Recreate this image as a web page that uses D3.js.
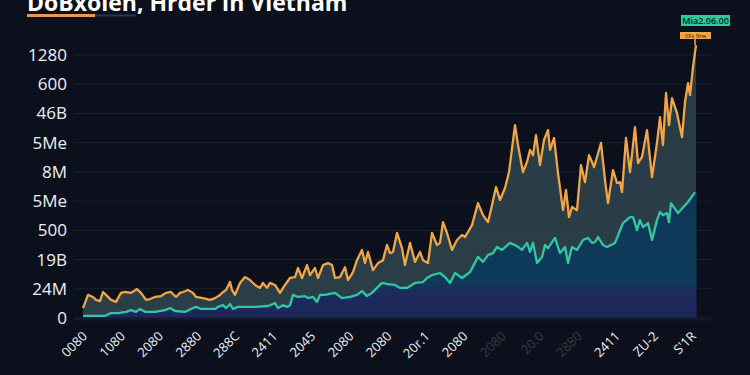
<!DOCTYPE html>
<html>
<head>
<meta charset="utf-8">
<script src="https://cdn.jsdelivr.net/npm/d3@7"></script>
<style>
  html, body { margin: 0; padding: 0; background: #0b101c; }
  svg { display: block; }
</style>
</head>
<body>
<div id="chart"></div>
<script>
// ---- data ----
var yTickLabels = ["0", "24M", "19B", "500", "5Me", "8M", "5Me", "46B", "600", "1280"];
var xTickLabels = ["0080", "1080", "2080", "2880", "288C", "2411", "2045", "2080", "2080",
                   "20r.1", "2080", "2080", "20.0", "2880", "2411", "ZU-2", "S'1R"];
var faintTicks = [11, 12, 13];

// orange series [day, value]
var orangeData = [[1,34],[6,79],[11,72],[14,62],[18,58],[21,89],[24,79],[29,62],[34,55],[39,86],
  [43,89],[49,86],[55,99],[59,86],[64,62],[68,65],[73,72],[79,75],[84,86],[89,89],[94,72],[98,86],
  [101,89],[106,96],[111,86],[114,72],[121,68],[128,62],[133,68],[138,79],[141,89],[144,96],[148,123],
  [150,96],[153,79],[158,120],[163,140],[168,130],[173,113],[178,103],[181,120],[185,103],[188,120],
  [193,113],[198,86],[203,113],[208,137],[213,140],[216,171],[220,137],[225,181],[228,147],[233,171],
  [236,137],[241,181],[246,188],[250,181],[253,137],[258,140],[263,174],[266,130],[271,157],[275,198],
  [280,233],[283,188],[286,226],[291,164],[296,188],[301,198],[305,250],[308,222],[311,226],[315,291],
  [320,239],[323,181],[328,257],[333,192],[338,226],[341,198],[346,188],[350,291],[355,250],[358,257],
  [361,328],[365,291],[370,233],[375,267],[380,284],[383,277],[390,318],[396,393],[401,352],[406,328],
  [410,386],[414,448],[418,404],[423,445],[427,499],[433,660],[436,592],[441,499],[445,534],[448,575],
  [451,557],[454,626],[458,523],[462,609],[466,643],[468,575],[472,616],[476,496],[481,369],[484,438],
  [487,345],[490,380],[495,369],[499,523],[503,465],[507,557],[510,534],[512,516],[515,551],[519,599],
  [523,472],[526,393],[531,506],[535,462],[538,465],[540,431],[544,616],[548,499],[553,653],[556,530],
  [560,551],[565,643],[570,482],[575,599],[578,687],[581,592],[584,770],[587,660],[590,752],[595,701],
  [600,619],[603,739],[606,804],[608,763],[611,858],[614,934]];

// teal series [day, value]
var tealData = [[1,7],[23,7],[29,17],[36,17],[44,21],[49,27],[54,21],[58,31],[63,21],[73,21],[83,27],
  [88,34],[93,24],[103,21],[111,34],[114,38],[119,31],[133,31],[136,38],[141,44],[144,34],[148,48],
  [151,31],[156,38],[173,38],[186,41],[193,51],[196,34],[201,44],[205,38],[208,44],[211,79],[216,72],
  [223,75],[226,68],[231,72],[235,55],[238,79],[243,79],[253,86],[260,68],[268,72],[275,79],[280,92],
  [285,75],[290,86],[295,103],[300,120],[306,116],[313,113],[318,103],[325,103],[333,120],[341,123],
  [345,137],[350,147],[358,154],[363,140],[368,120],[373,154],[380,137],[388,157],[396,209],[401,192],
  [406,215],[411,222],[415,243],[420,233],[428,257],[435,246],[440,233],[445,257],[448,226],[451,257],
  [455,188],[460,209],[463,250],[466,239],[473,274],[478,222],[483,243],[486,188],[490,243],[495,233],
  [501,267],[506,274],[510,257],[513,260],[516,277],[521,250],[525,243],[533,257],[541,325],[548,345],
  [551,345],[555,301],[558,335],[561,311],[566,325],[570,267],[575,335],[578,363],[581,352],[585,359],
  [587,328],[589,393],[596,359],[606,397],[613,431]];

var titleText = "DoBxolen, Hrder in Vietham";
var badgeTop = "Mia2.06.00";
var badgeSub = "0Fs 9ne";

// ---- layout ----
var width = 750, height = 375;
var svg = d3.select("#chart").append("svg")
    .attr("width", width).attr("height", height);

svg.append("rect").attr("width", width).attr("height", height).attr("fill", "#0b101c");

var x = d3.scaleLinear().domain([0, 615]).range([82, 697]);
var y = d3.scaleLinear().domain([0, 900]).range([318, 55]);

// gradients
var defs = svg.append("defs");
var gTeal = defs.append("linearGradient").attr("id", "tealFill")
    .attr("gradientUnits", "userSpaceOnUse")
    .attr("x1", 0).attr("y1", 190).attr("x2", 0).attr("y2", 318);
gTeal.append("stop").attr("offset", "0%").attr("stop-color", "#0c3654");
gTeal.append("stop").attr("offset", "72%").attr("stop-color", "#0f3b5c");
gTeal.append("stop").attr("offset", "80%").attr("stop-color", "#1c2a5c");
gTeal.append("stop").attr("offset", "100%").attr("stop-color", "#1d2859");

var gOrange = defs.append("linearGradient").attr("id", "orangeFill")
    .attr("gradientUnits", "userSpaceOnUse")
    .attr("x1", 0).attr("y1", 45).attr("x2", 0).attr("y2", 318);
gOrange.append("stop").attr("offset", "0%").attr("stop-color", "#273a48");
gOrange.append("stop").attr("offset", "100%").attr("stop-color", "#2b3f47");

// gridlines
var yTicks = d3.range(0, 1000, 100);
svg.append("g").selectAll("line").data(yTicks).join("line")
    .attr("x1", 74).attr("x2", 712)
    .attr("y1", function(d) { return y(d); })
    .attr("y2", function(d) { return y(d); })
    .attr("stroke", "#1a2130").attr("stroke-width", 1);

// y axis labels
var yAxis = d3.axisLeft(y).tickValues(yTicks)
    .tickFormat(function(d, i) { return yTickLabels[i]; })
    .tickSize(0).tickPadding(0);
var yg = svg.append("g").attr("transform", "translate(67,0)").call(yAxis);
yg.select(".domain").remove();
yg.selectAll("text")
    .attr("fill", "#eef0f4")
    .style("font-family", "'Open Sans', sans-serif")
    .style("font-size", "17px");

// areas
var areaOrange = d3.area()
    .x(function(d) { return x(d[0]); })
    .y0(y(0))
    .y1(function(d) { return y(d[1]); });
svg.append("path").datum(orangeData)
    .attr("d", areaOrange).attr("fill", "url(#orangeFill)");

var areaTeal = d3.area()
    .x(function(d) { return x(d[0]); })
    .y0(y(0))
    .y1(function(d) { return y(d[1]); });
svg.append("path").datum(tealData)
    .attr("d", areaTeal).attr("fill", "url(#tealFill)");

// extend teal fill to right edge of the orange fill
svg.append("rect")
    .attr("x", x(613)).attr("width", x(614) - x(613) + 0.5)
    .attr("y", y(431)).attr("height", y(0) - y(431))
    .attr("fill", "url(#tealFill)");

// lines
var line = d3.line()
    .x(function(d) { return x(d[0]); })
    .y(function(d) { return y(d[1]); });

svg.append("path").datum(tealData)
    .attr("d", line).attr("fill", "none")
    .attr("stroke", "#31c7a2").attr("stroke-width", 2.3)
    .attr("stroke-linejoin", "round");

svg.append("path").datum(orangeData)
    .attr("d", line).attr("fill", "none")
    .attr("stroke", "#f2a543").attr("stroke-width", 2.3)
    .attr("stroke-linejoin", "round");

// baseline
svg.append("line").attr("x1", 74).attr("x2", 712)
    .attr("y1", y(0) + 1).attr("y2", y(0) + 1)
    .attr("stroke", "#121a2a").attr("stroke-width", 3);

// x axis labels
var xPos = d3.scaleLinear().domain([0, xTickLabels.length - 1]).range([88, 697]);
svg.append("g").selectAll("text").data(xTickLabels).join("text")
    .attr("transform", function(d, i) {
        return "translate(" + xPos(i) + ",337) rotate(-45)";
    })
    .attr("text-anchor", "end")
    .attr("fill", "#eef0f4")
    .attr("opacity", function(d, i) { return faintTicks.indexOf(i) >= 0 ? 0.18 : 1; })
    .style("font-family", "'Open Sans', sans-serif")
    .style("font-size", "13px")
    .text(function(d) { return d; });

// title
svg.append("text")
    .attr("x", 27).attr("y", 11)
    .attr("fill", "#ffffff")
    .style("font-family", "'Open Sans', sans-serif")
    .style("font-weight", "700")
    .style("font-size", "23px")
    .text(titleText);
svg.append("rect").attr("x", 27).attr("y", 14).attr("width", 68).attr("height", 3)
    .attr("fill", "#e99a48");
svg.append("rect").attr("x", 95).attr("y", 14.5).attr("width", 41).attr("height", 2)
    .attr("fill", "#1d3a6a");

// peak annotation
var peak = orangeData[orangeData.length - 1];
svg.append("line")
    .attr("x1", x(peak[0]) - 1).attr("x2", x(peak[0]) - 1)
    .attr("y1", 39).attr("y2", y(peak[1]))
    .attr("stroke", "#f2a543").attr("stroke-width", 1.5);

svg.append("rect").attr("x", 681).attr("y", 15).attr("width", 49).attr("height", 11)
    .attr("fill", "#2ccb9c");
svg.append("text").attr("x", 705.5).attr("y", 24)
    .attr("text-anchor", "middle").attr("fill", "#0b1a1e")
    .style("font-family", "'Open Sans', sans-serif")
    .style("font-size", "9px").style("font-weight", "600")
    .text(badgeTop);

svg.append("rect").attr("x", 680).attr("y", 32).attr("width", 31).attr("height", 7)
    .attr("fill", "#f2a546");
svg.append("text").attr("x", 695.5).attr("y", 37.8)
    .attr("text-anchor", "middle").attr("fill", "#2a1a08")
    .style("font-family", "'Open Sans', sans-serif")
    .style("font-size", "6px")
    .text(badgeSub);
</script>
</body>
</html>
